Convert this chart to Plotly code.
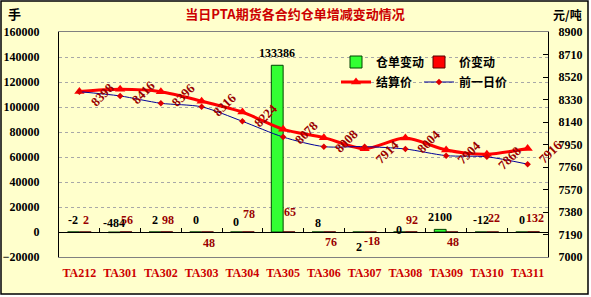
import plotly.graph_objects as go

# ---------------- data ----------------
categories = ["TA212", "TA301", "TA302", "TA303", "TA304", "TA305",
              "TA306", "TA307", "TA308", "TA309", "TA310", "TA311"]
warrant_change = [-2, -484, 2, 0, 0, 133386, 8, 2, 0, 2100, -12, 0]      # 仓单变动 (手)
price_change = [2, 56, 98, 48, 78, 65, 76, -18, 92, 48, 22, 132]          # 价变动 (元/吨)
settle_price = [8398, 8416, 8396, 8316, 8224, 8078, 8008, 7914, 8004, 7904, 7868, 7916]  # 结算价
prev_price = [8396, 8360, 8298, 8268, 8146, 8013, 7932, 7932, 7912, 7856, 7846, 7784]    # 前一日价

left_ticks = [-20000, 0, 20000, 40000, 60000, 80000, 100000, 120000, 140000, 160000]
right_ticks = [7000, 7190, 7380, 7570, 7760, 7950, 8140, 8330, 8520, 8710, 8900]

# ---------------- style ----------------
W, H = 591, 297
L, R, T, B = 59, 43, 32, 40
PW, PH = W - L - R, H - T - B
BG = "#FFFFCC"
SERIF = "Liberation Serif"
CJK = "Noto Sans CJK SC"
# vertical pixel shift of each data label (style only)
warrant_label_shift = [12, 10, 12, 12, 10, 12, 9, -15, 2, 12, 12, 12]
price_label_shift = [12, 12, 12, -11, 18, 20, -10, -9, 12, -10, 14, 14]


def px_x(px):
    return (px - L) / PW


def px_y(py):
    return (H - B - py) / PH


fig = go.Figure()
fig.add_trace(go.Bar(
    x=categories, y=warrant_change, name="仓单变动",
    marker=dict(color="#33FF33", line=dict(color="#004400", width=1)),
    legend="legend"))
fig.add_trace(go.Bar(
    x=categories, y=price_change, name="价变动",
    marker=dict(color="#FF0000", line=dict(color="#550000", width=1)),
    legend="legend", legendwidth=50))
fig.add_trace(go.Scatter(
    x=categories, y=settle_price, name="结算价", xaxis="x2", yaxis="y2",
    mode="lines+markers",
    line=dict(color="#FF0000", width=3, shape="spline", smoothing=0.8),
    marker=dict(symbol="triangle-up", size=9, color="#FF0000"),
    legend="legend2"))
fig.add_trace(go.Scatter(
    x=categories, y=prev_price, name="前一日价", xaxis="x2", yaxis="y2",
    mode="lines+markers",
    line=dict(color="#000099", width=1, shape="spline", smoothing=0.8),
    marker=dict(symbol="diamond", size=5, color="#DD0000"),
    legend="legend2", legendwidth=60))

ann = []
label_font_black = dict(family=SERIF, size=12, color="black", weight="bold")
label_font_red = dict(family=SERIF, size=12, color="#990000", weight="bold")
for i, v in enumerate(warrant_change):
    ann.append(dict(x=i, y=v, xref="x", yref="y", text=str(v), showarrow=False,
                    xshift=-6, yshift=warrant_label_shift[i],
                    font=label_font_black))
for i, v in enumerate(price_change):
    ann.append(dict(x=i, y=v, xref="x", yref="y", text=str(v), showarrow=False,
                    xshift=7, yshift=price_label_shift[i],
                    font=label_font_red))
for i, v in enumerate(settle_price):
    ann.append(dict(x=i, y=v, xref="x2", yref="y2", text=str(v), showarrow=False,
                    xshift=23, yshift=-3, textangle=-45,
                    font=dict(family=SERIF, size=13, color="#990000", weight="bold")))

ann.append(dict(x=px_x(14), y=px_y(14), xref="paper", yref="paper", text="手",
                xanchor="center", yanchor="middle",
                showarrow=False, font=dict(family=CJK, size=13, color="black", weight="bold")))
ann.append(dict(x=px_x(567), y=px_y(15), xref="paper", yref="paper", text="元/吨",
                xanchor="center", yanchor="middle",
                showarrow=False, font=dict(family=CJK, size=12, color="black", weight="bold")))

fig.update_layout(
    width=W, height=H,
    margin=dict(l=L, r=R, t=T, b=B, pad=0, autoexpand=False),
    paper_bgcolor="white", plot_bgcolor=BG,
    barmode="group", bargap=0.42, bargroupgap=0,
    showlegend=True,
    title=dict(text="当日PTA期货各合约仓单增减变动情况", x=295 / W, xanchor="center",
               y=1 - 14 / H, yanchor="middle",
               font=dict(family=CJK, size=13, color="#CC0000", weight="bold")),
    xaxis=dict(type="category", categoryorder="array", categoryarray=categories,
               range=[-0.5, 11.5], showgrid=False, ticks="", automargin=False,
               showline=True, mirror=True, linecolor="#808080", linewidth=1,
               tickfont=dict(family=SERIF, size=12, color="#CC0000", weight="bold"),
               ticklabelstandoff=5),
    xaxis2=dict(type="category", overlaying="x", matches="x", anchor="free",
                position=(0 - left_ticks[0]) / (left_ticks[-1] - left_ticks[0]),
                showticklabels=False, ticks="inside", tickson="boundaries",
                ticklen=4, tickcolor="black", showline=True, linecolor="black",
                linewidth=1, showgrid=False, automargin=False),
    yaxis=dict(range=[left_ticks[0], left_ticks[-1]], tickvals=left_ticks,
               showgrid=True, griddash="3px,3px", gridcolor="#A8A8A8", gridwidth=1,
               zeroline=False, showline=True, linecolor="black", linewidth=1,
               ticks="", tickformat="d", ticklabelstandoff=16, automargin=False,
               tickfont=dict(family=SERIF, size=12, color="black", weight="bold")),
    yaxis2=dict(overlaying="y", side="right", anchor="x",
                range=[right_ticks[0], right_ticks[-1]], tickvals=right_ticks,
                showgrid=False, zeroline=False, ticks="inside", ticklen=5,
                tickcolor="black", showline=True, linecolor="black", linewidth=1,
                ticklabelstandoff=7, automargin=False,
                tickfont=dict(family=SERIF, size=12, color="black", weight="bold")),
    legend=dict(orientation="h", x=px_x(336), y=px_y(62), xanchor="left", yanchor="middle",
                bgcolor="rgba(0,0,0,0)", entrywidth=38, entrywidthmode="pixels",
                itemwidth=30, font=dict(family=CJK, size=12, color="black", weight="bold")),
    legend2=dict(orientation="h", x=px_x(336), y=px_y(82), xanchor="left", yanchor="middle",
                 bgcolor="rgba(0,0,0,0)", entrywidth=38, entrywidthmode="pixels",
                 itemwidth=30, font=dict(family=CJK, size=12, color="black", weight="bold")),
    annotations=ann,
    shapes=[dict(type="rect", xref="paper", yref="paper", layer="below",
                 x0=px_x(1), x1=px_x(588), y0=px_y(294), y1=px_y(1),
                 fillcolor=BG, line=dict(color="black", width=1.5))],
)

fig.write_html("out.html")
